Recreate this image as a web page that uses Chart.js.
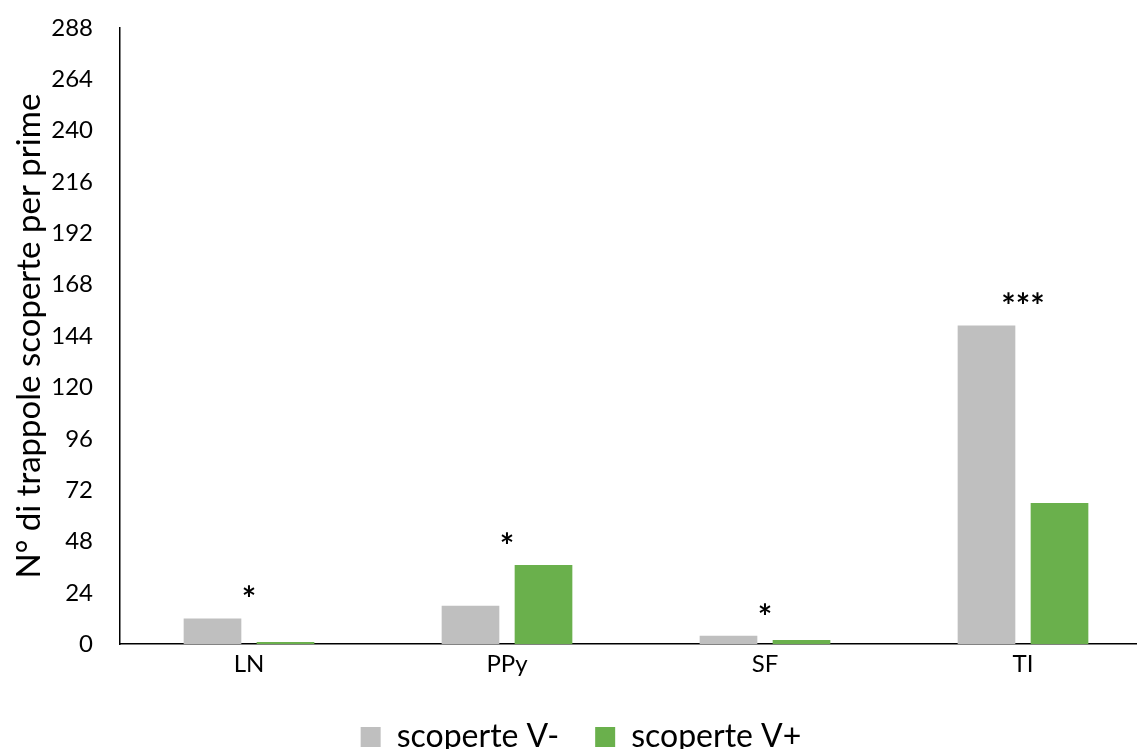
<!DOCTYPE html>
<html>
<head>
<meta charset="utf-8">
<script src="https://cdn.jsdelivr.net/npm/chart.js@4"></script>
<style>
  html, body { margin: 0; padding: 0; background: #fff; overflow: hidden; }
  #wrap { width: 1152px; height: 749px; }
</style>
</head>
<body>
<div id="wrap"><canvas id="chart"></canvas></div>
<script>
const categories = ['LN', 'PPy', 'SF', 'TI'];
const scoperteVMinus = [12, 18, 4, 149];
const scoperteVPlus = [1, 37, 2, 66];
const significance = ['*', '*', '*', '***'];
const yTicks = [0, 24, 48, 72, 96, 120, 144, 168, 192, 216, 240, 264, 288];

const FONT = 'Lato, "Open Sans", sans-serif';

// stars above each category group
const starsPlugin = {
    id: 'starsPlugin',
    afterDatasetsDraw: (chart) => {
        const ctx = chart.ctx;
        const x = chart.scales.x;
        const y = chart.scales.y;
        ctx.save();
        ctx.fillStyle = '#000';
        ctx.font = 'bold 34px ' + FONT;
        ctx.textAlign = 'center';
        ctx.textBaseline = 'middle';
        categories.forEach((c, i) => {
            const top = Math.max(scoperteVMinus[i], scoperteVPlus[i]);
            ctx.fillText(significance[i], x.getPixelForValue(i), y.getPixelForValue(top) - 18);
        });
        ctx.restore();
    }
};

new Chart(document.getElementById('chart').getContext('2d'), {
    type: 'bar',
    data: {
        labels: categories,
        datasets: [
            {
                label: 'scoperte V-',
                data: scoperteVMinus,
                backgroundColor: '#bfbfbf',
                categoryPercentage: 0.566,
                barPercentage: 0.79
            },
            {
                label: 'scoperte V+',
                data: scoperteVPlus,
                backgroundColor: '#6ab04c',
                categoryPercentage: 0.566,
                barPercentage: 0.79
            }
        ]
    },
    options: {
        responsive: true,
        maintainAspectRatio: false,
        animation: false,
        layout: { padding: { top: 28, left: 10, right: 0, bottom: -14 } },
        plugins: {
            legend: {
                position: 'bottom',
                labels: {
                    font: { family: FONT, size: 32 },
                    color: '#000',
                    boxWidth: 20,
                    boxHeight: 20,
                    padding: 36
                }
            },
            tooltip: { enabled: false }
        },
        scales: {
            x: {
                grid: { display: false, drawTicks: false },
                border: { display: true, color: '#000', width: 1.5 },
                ticks: { font: { family: FONT, size: 24 }, color: '#000', padding: 6 }
            },
            y: {
                min: 0,
                max: 288,
                afterBuildTicks: (scale) => { scale.ticks = yTicks.map(v => ({ value: v })); },
                afterFit: (scale) => {
                    scale.width = 110;
                    scale.paddingTop = 0;
                    scale.paddingBottom = 0;
                },
                grid: { display: false, drawTicks: false },
                border: { display: true, color: '#000', width: 1.5 },
                ticks: { font: { family: FONT, size: 24 }, color: '#000', padding: 27 },
                title: {
                    display: true,
                    text: 'N° di trappole scoperte per prime',
                    font: { family: FONT, size: 33 },
                    color: '#000',
                    padding: { top: 0, bottom: 0 }
                }
            }
        }
    },
    plugins: [starsPlugin]
});
</script>
</body>
</html>
